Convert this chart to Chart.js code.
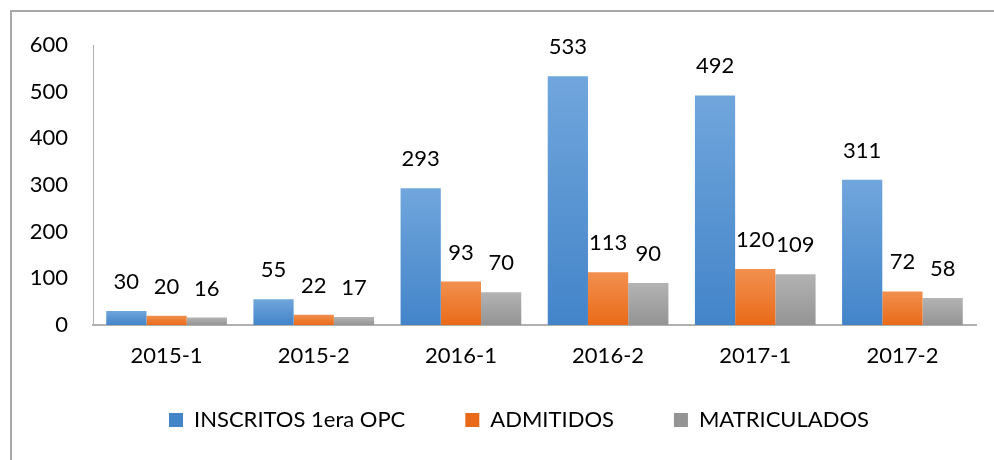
<!DOCTYPE html>
<html>
<head>
<meta charset="utf-8">
<script src="https://cdn.jsdelivr.net/npm/chart.js@4"></script>
<style>
  html, body { margin: 0; padding: 0; background: #fff; overflow: hidden; }
  #wrap { position: relative; width: 994px; height: 460px; }
  #frame { position: absolute; left: 10px; top: 10px; width: 1000px; height: 460px;
           border-top: 2px solid #a8a8a8; border-left: 2px solid #a8a8a8; pointer-events: none; }
  canvas { position: absolute; left: 0; top: 0; }
</style>
</head>
<body>
<div id="wrap">
  <canvas id="chart" width="994" height="460"></canvas>
  <div id="frame"></div>
</div>
<script>
(function () {
  'use strict';

  var categories = ['2015-1', '2015-2', '2016-1', '2016-2', '2017-1', '2017-2'];
  var inscritos = [30, 55, 293, 533, 492, 311];
  var admitidos = [20, 22, 93, 113, 120, 72];
  var matriculados = [16, 17, 70, 90, 109, 58];
  var yTicks = [0, 100, 200, 300, 400, 500, 600];

  var FONT = 'Lato, "Open Sans", sans-serif';

  // Excel-style per-bar vertical gradient
  function barGradient(top, bottom) {
    return function (ctx) {
      var chart = ctx.chart;
      var y = chart.scales && chart.scales.y;
      if (!y || ctx.parsed == null || ctx.type !== 'data') return bottom;
      var yTop = y.getPixelForValue(ctx.parsed.y);
      var yBase = y.getPixelForValue(0);
      if (!isFinite(yTop) || !isFinite(yBase) || yTop === yBase) return bottom;
      var g = chart.ctx.createLinearGradient(0, yTop, 0, yBase);
      g.addColorStop(0, top);
      g.addColorStop(1, bottom);
      return g;
    };
  }

  var COLORS = {
    blue: { top: '#70a6dc', bottom: '#4384c9' },
    orange: { top: '#f2904f', bottom: '#e96a18' },
    gray: { top: '#b3b3b3', bottom: '#949494' }
  };

  // value labels above each bar
  var valueLabels = {
    id: 'valueLabels',
    afterDatasetsDraw: function (chart) {
      var ctx = chart.ctx;
      ctx.save();
      ctx.font = '22px ' + FONT;
      ctx.fillStyle = '#000';
      ctx.textAlign = 'center';
      ctx.textBaseline = 'middle';
      chart.data.datasets.forEach(function (ds, i) {
        chart.getDatasetMeta(i).data.forEach(function (bar, j) {
          ctx.fillText(String(ds.data[j]), bar.x, bar.y - 29);
        });
      });
      ctx.restore();
    }
  };

  // nudge the legend box: up closer to the axis labels, a bit to the right
  var legendNudge = {
    id: 'legendNudge',
    afterLayout: function (chart) {
      var lg = chart.legend;
      if (!lg) return;
      lg.top -= 23;
      lg.bottom = chart.height;
      lg.left += 31; lg.right += 31;
    }
  };

  function makeDataset(label, data, c) {
    return {
      label: label,
      data: data,
      backgroundColor: barGradient(c.top, c.bottom),
      borderWidth: 0,
      categoryPercentage: 0.82,
      barPercentage: 1.0
    };
  }

  new Chart(document.getElementById('chart').getContext('2d'), {
    type: 'bar',
    data: {
      labels: categories,
      datasets: [
        makeDataset('INSCRITOS 1era OPC', inscritos, COLORS.blue),
        makeDataset('ADMITIDOS', admitidos, COLORS.orange),
        makeDataset('MATRICULADOS', matriculados, COLORS.gray)
      ]
    },
    options: {
      responsive: false,
      animation: false,
      layout: { padding: { top: 45, right: 18, bottom: 18.5, left: 0 } },
      plugins: {
        legend: {
          position: 'bottom',
          maxHeight: 69.5,
          labels: {
            font: { family: FONT, size: 22 },
            color: '#000',
            boxWidth: 14,
            boxHeight: 14,
            padding: 60,
            generateLabels: function (chart) {
              var list = [COLORS.blue, COLORS.orange, COLORS.gray];
              return chart.data.datasets.map(function (ds, i) {
                return {
                  text: ds.label,
                  fillStyle: list[i].bottom,
                  strokeStyle: list[i].bottom,
                  lineWidth: 0,
                  fontColor: '#000',
                  datasetIndex: i
                };
              });
            }
          }
        },
        tooltip: { enabled: false }
      },
      scales: {
        x: {
          grid: { display: false, drawTicks: false },
          border: { color: '#b0b0b0', width: 2 },
          ticks: { font: { family: FONT, size: 22 }, color: '#000', padding: 18 },
          afterFit: function (s) { s.height = 47; }
        },
        y: {
          min: 0,
          max: 600,
          afterBuildTicks: function (s) {
            s.ticks = yTicks.map(function (v) { return { value: v }; });
          },
          grid: { display: false, drawTicks: false },
          border: { color: '#b0b0b0', width: 1 },
          ticks: { font: { family: FONT, size: 22 }, color: '#000', padding: 25 },
          afterFit: function (s) { s.width = 93; }
        }
      }
    },
    plugins: [valueLabels, legendNudge]
  });
})();
</script>
</body>
</html>
